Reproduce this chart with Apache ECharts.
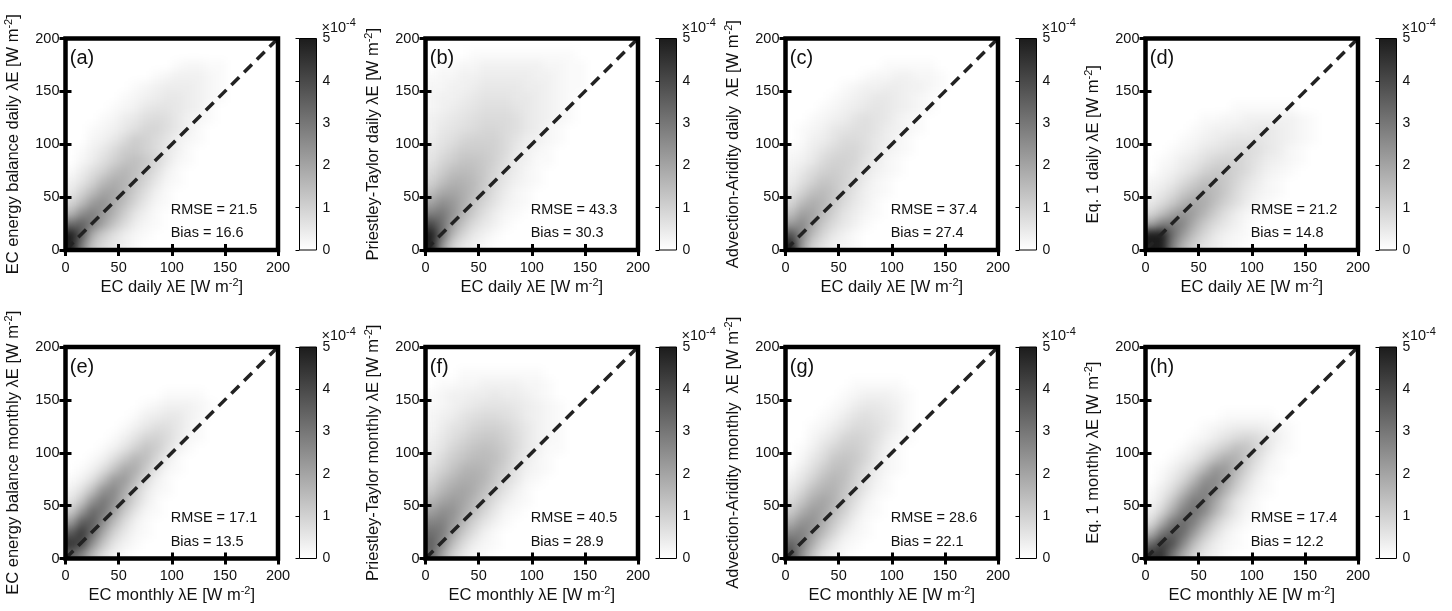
<!DOCTYPE html>
<html><head><meta charset="utf-8">
<script src="https://cdn.jsdelivr.net/npm/echarts@6/dist/echarts.min.js"></script>
<style>
html,body{margin:0;padding:0;background:#fff}
#wrap{position:relative;width:1452px;height:611px;overflow:hidden}
#c{position:absolute;left:0;top:0;width:1452px;height:611px;z-index:2}
.heat{position:absolute;z-index:1;filter:url(#smooth)}
</style>
</head><body>
<svg width="0" height="0" style="position:absolute">
 <filter id="smooth" x="0" y="0" width="100%" height="100%" color-interpolation-filters="sRGB">
  <feGaussianBlur stdDeviation="4" result="b"/>
  <feComponentTransfer in="b"><feFuncA type="linear" slope="1000" intercept="0"/></feComponentTransfer>
 </filter>
</svg>
<div id="wrap"><div id="c"></div></div>
<script>
// ---------------- data ----------------
const binStarts = [0,10,20,30,40,50,60,70,80,90,100,110,120,130,140,150,160,170,180,190];
const binWidth = 10;
const axisTicks = [0,50,100,150,200];
const cbarTicks = [0,1,2,3,4,5];
const oneToOne = [[0,0],[200,200]];
const panelTags = ['(a)','(b)','(c)','(d)','(e)','(f)','(g)','(h)'];
const yNames = ['EC energy balance daily \u03bbE','Priestley-Taylor daily \u03bbE','Advection-Aridity daily  \u03bbE','Eq. 1 daily \u03bbE',
                'EC energy balance monthly \u03bbE','Priestley-Taylor monthly \u03bbE','Advection-Aridity monthly  \u03bbE','Eq. 1 monthly \u03bbE'];
const xNames = ['EC daily \u03bbE','EC daily \u03bbE','EC daily \u03bbE','EC daily \u03bbE','EC monthly \u03bbE','EC monthly \u03bbE','EC monthly \u03bbE','EC monthly \u03bbE'];
const rmseValues = [21.5,43.3,37.4,21.2,17.1,40.5,28.6,17.4];
const biasValues = [16.6,30.3,27.4,14.8,13.5,28.9,22.1,12.2];

// density (x1e-4), rows from top (y 190-200) to bottom (y 0-10); columns x 0-10, 10-20, ...
const densA = [
 [],[],
 [0,0,0,0,0,0,0,0,0,0,0.1,0.2,0.2,0.1,0.1],
 [0,0,0,0,0,0,0,0,0.1,0.2,0.3,0.3,0.3,0.2,0.1],
 [0,0,0,0,0,0,0.1,0.2,0.3,0.4,0.4,0.4,0.3,0.2,0.1],
 [0,0,0,0,0,0.1,0.2,0.3,0.4,0.5,0.5,0.4,0.3,0.2,0.1],
 [0,0,0,0,0.1,0.2,0.3,0.5,0.6,0.6,0.5,0.4,0.3,0.1],
 [0,0,0,0.1,0.2,0.4,0.5,0.7,0.8,0.7,0.5,0.3,0.2,0.1],
 [0,0,0.1,0.2,0.3,0.5,0.7,0.9,0.9,0.7,0.5,0.3,0.1],
 [0,0,0.2,0.3,0.5,0.8,1.1,1.0,0.8,0.6,0.3,0.2,0.1],
 [0,0.1,0.3,0.5,0.8,1.1,1.2,1.0,0.8,0.5,0.3,0.1],
 [0,0.2,0.4,0.7,1.0,1.3,1.4,1.2,0.9,0.5,0.2,0.1],
 [0.1,0.4,0.7,1.0,1.4,1.6,1.4,1.1,0.7,0.3,0.1],
 [0.3,0.6,1.0,1.5,1.8,1.7,1.3,0.9,0.5,0.2,0.1],
 [0.5,1.0,1.5,2.0,2.0,1.6,1.1,0.7,0.3,0.1],
 [0.9,1.5,2.2,2.4,1.9,1.4,0.9,0.5,0.2,0.1],
 [1.6,2.5,2.8,2.3,1.7,1.1,0.6,0.3,0.1],
 [3.2,3.5,2.8,2.0,1.3,0.8,0.4,0.2,0.1],
 [5.0,3.6,1.8,1.1,0.7,0.4,0.2,0.1],
 [5.0,2.8,1.3,0.8,0.5,0.3,0.1]
];
const densB = [
 [],
 [0,0,0,0,0.1,0.1,0.1,0.1,0.1,0.1,0.1,0.1,0.1,0.1],
 [0,0.1,0.1,0.2,0.2,0.3,0.3,0.3,0.3,0.3,0.3,0.2,0.2,0.1,0.1],
 [0.1,0.2,0.2,0.3,0.3,0.4,0.4,0.4,0.4,0.4,0.3,0.3,0.2,0.1,0.1],
 [0.2,0.2,0.3,0.3,0.4,0.5,0.5,0.5,0.5,0.4,0.4,0.3,0.2,0.1,0.1],
 [0.2,0.3,0.3,0.4,0.5,0.6,0.6,0.6,0.5,0.5,0.4,0.3,0.2,0.1],
 [0.2,0.3,0.4,0.5,0.6,0.7,0.7,0.7,0.6,0.5,0.4,0.3,0.2,0.1],
 [0.3,0.4,0.5,0.6,0.7,0.8,0.8,0.8,0.7,0.5,0.4,0.3,0.2,0.1],
 [0.3,0.5,0.6,0.7,0.8,0.9,0.9,0.8,0.7,0.5,0.4,0.2,0.1],
 [0.4,0.6,0.7,0.9,1.0,1.0,1.0,0.8,0.6,0.4,0.3,0.2,0.1],
 [0.5,0.7,0.9,1.1,1.1,1.1,1.0,0.8,0.5,0.3,0.2,0.1],
 [0.6,0.9,1.1,1.3,1.3,1.2,1.0,0.7,0.4,0.3,0.1,0.1],
 [0.8,1.1,1.4,1.5,1.4,1.2,0.9,0.6,0.4,0.2,0.1],
 [1.0,1.4,1.7,1.7,1.5,1.2,0.8,0.5,0.3,0.2,0.1],
 [1.4,1.9,2.0,1.8,1.5,1.1,0.7,0.4,0.2,0.1],
 [2.0,2.5,2.3,1.8,1.3,0.9,0.6,0.3,0.2,0.1],
 [2.8,3.0,2.4,1.7,1.1,0.7,0.4,0.2,0.1],
 [4.0,3.2,2.1,1.3,0.8,0.5,0.3,0.1],
 [5.0,3.2,1.6,0.9,0.5,0.3,0.1],
 [5.0,2.4,1.0,0.5,0.3,0.1]
];
const densC = [
 [],[],
 [0,0,0,0,0,0,0,0,0,0.1,0.1,0.1,0.1,0.1],
 [0,0,0,0,0,0,0,0.1,0.2,0.2,0.3,0.3,0.2,0.2,0.1],
 [0,0,0,0,0,0.1,0.2,0.3,0.3,0.4,0.4,0.3,0.3,0.2,0.1],
 [0,0,0,0,0.1,0.2,0.3,0.4,0.5,0.5,0.4,0.3,0.2,0.1],
 [0,0,0,0.1,0.2,0.3,0.4,0.5,0.6,0.5,0.4,0.3,0.2,0.1],
 [0,0,0.1,0.2,0.3,0.4,0.6,0.7,0.6,0.5,0.3,0.2,0.1],
 [0,0.1,0.2,0.3,0.5,0.6,0.7,0.7,0.6,0.4,0.3,0.2,0.1],
 [0,0.1,0.3,0.4,0.6,0.8,0.8,0.7,0.5,0.4,0.2,0.1],
 [0.1,0.2,0.4,0.6,0.8,0.9,0.9,0.7,0.5,0.3,0.2,0.1],
 [0.2,0.3,0.5,0.8,1.0,1.0,0.9,0.6,0.4,0.2,0.1],
 [0.3,0.5,0.8,1.0,1.1,1.0,0.8,0.5,0.3,0.2,0.1],
 [0.4,0.7,1.0,1.3,1.2,1.0,0.7,0.4,0.2,0.1],
 [0.6,1.0,1.4,1.5,1.3,0.9,0.6,0.3,0.2,0.1],
 [0.9,1.5,1.8,1.6,1.2,0.8,0.5,0.3,0.1],
 [1.4,2.1,2.0,1.5,1.0,0.6,0.4,0.2,0.1],
 [2.2,2.6,1.9,1.2,0.8,0.5,0.3,0.1],
 [3.8,2.6,1.5,0.9,0.5,0.3,0.1],
 [5.0,2.2,1.0,0.6,0.3,0.2,0.1]
];
const densD = [
 [],[],[],[],[],[],
 [0,0,0,0,0,0,0,0,0.1,0.1,0.1,0.1,0.1,0.1],
 [0,0,0,0,0,0.1,0.1,0.2,0.2,0.3,0.3,0.3,0.3,0.3,0.2,0.1],
 [0,0,0,0,0.1,0.2,0.3,0.3,0.4,0.4,0.5,0.5,0.4,0.3,0.2,0.1],
 [0,0,0,0.1,0.2,0.3,0.4,0.5,0.6,0.6,0.6,0.5,0.4,0.3,0.2,0.1],
 [0,0,0.1,0.2,0.3,0.5,0.6,0.7,0.8,0.8,0.7,0.5,0.4,0.2,0.1],
 [0,0.1,0.2,0.4,0.5,0.7,0.9,1.0,1.0,0.8,0.6,0.4,0.3,0.2,0.1],
 [0,0.2,0.3,0.5,0.7,1.0,1.2,1.2,1.0,0.8,0.5,0.3,0.2,0.1],
 [0.2,0.3,0.5,0.8,1.1,1.4,1.4,1.2,0.9,0.6,0.4,0.2,0.1],
 [0.3,0.5,0.8,1.2,1.5,1.7,1.5,1.2,0.8,0.5,0.3,0.2,0.1],
 [0.5,0.8,1.2,1.7,2.0,1.8,1.4,1.0,0.7,0.4,0.2,0.1],
 [0.9,1.4,2.0,2.4,2.1,1.6,1.1,0.7,0.4,0.2,0.1],
 [2.0,2.8,3.0,2.6,1.8,1.2,0.8,0.5,0.3,0.1],
 [5.0,5.0,3.2,2.2,1.4,0.9,0.5,0.3,0.2,0.1],
 [5.0,5.0,2.8,1.6,1.0,0.6,0.4,0.2,0.1]
];
const densE = [
 [],[],[],[],
 [0,0,0,0,0,0,0,0,0,0.1,0.1,0.1,0.1],
 [0,0,0,0,0,0,0,0.1,0.2,0.3,0.3,0.3,0.2,0.1],
 [0,0,0,0,0,0,0.1,0.3,0.4,0.5,0.5,0.3,0.2],
 [0,0,0,0,0,0.1,0.3,0.5,0.7,0.7,0.5,0.3,0.1],
 [0,0,0,0,0.1,0.3,0.6,0.9,1.0,0.8,0.5,0.2,0.1],
 [0,0,0,0.1,0.3,0.6,1.0,1.3,1.1,0.7,0.3,0.1],
 [0,0,0.1,0.3,0.7,1.2,1.6,1.4,0.9,0.4,0.1],
 [0,0.1,0.3,0.7,1.3,1.9,1.8,1.2,0.6,0.2,0.1],
 [0.1,0.3,0.7,1.4,2.2,2.2,1.5,0.8,0.3,0.1],
 [0.3,0.7,1.4,2.4,2.6,1.9,1.1,0.5,0.2,0.1],
 [0.6,1.3,2.4,3.0,2.5,1.6,0.9,0.4,0.1],
 [1.2,2.3,3.3,3.0,2.1,1.2,0.6,0.2,0.1],
 [2.2,3.6,3.6,2.5,1.5,0.8,0.3,0.1],
 [3.6,4.4,3.2,1.9,1.0,0.5,0.2,0.1],
 [4.5,4.0,2.4,1.3,0.6,0.3,0.1],
 [3.5,2.6,1.5,0.7,0.3,0.1]
];
const densF = [
 [],[],
 [0,0,0,0.1,0.1,0.1,0.1,0.1,0.1,0.1,0.1],
 [0,0.1,0.1,0.2,0.2,0.3,0.3,0.3,0.3,0.2,0.2,0.1],
 [0.1,0.2,0.3,0.3,0.4,0.4,0.5,0.4,0.4,0.3,0.2,0.1],
 [0.1,0.2,0.3,0.4,0.5,0.6,0.6,0.6,0.5,0.4,0.3,0.2,0.1],
 [0.2,0.3,0.4,0.6,0.7,0.8,0.8,0.7,0.6,0.4,0.3,0.2,0.1],
 [0.2,0.4,0.6,0.7,0.9,1.0,1.0,0.9,0.7,0.5,0.3,0.2,0.1],
 [0.3,0.5,0.7,0.9,1.1,1.2,1.2,1.0,0.8,0.5,0.3,0.2,0.1],
 [0.4,0.6,0.9,1.1,1.3,1.4,1.3,1.1,0.8,0.5,0.3,0.1,0.1],
 [0.5,0.8,1.1,1.3,1.5,1.5,1.4,1.1,0.7,0.4,0.2,0.1],
 [0.7,1.0,1.3,1.6,1.7,1.6,1.3,1.0,0.6,0.3,0.2,0.1],
 [0.9,1.3,1.6,1.8,1.8,1.6,1.2,0.8,0.5,0.2,0.1],
 [1.2,1.6,1.9,2.0,1.8,1.4,1.0,0.6,0.3,0.1],
 [1.6,2.0,2.2,2.0,1.6,1.2,0.7,0.4,0.2,0.1],
 [2.1,2.5,2.4,1.9,1.4,0.9,0.5,0.2,0.1],
 [2.7,2.8,2.3,1.6,1.0,0.6,0.3,0.1],
 [3.2,2.9,2.0,1.2,0.7,0.3,0.1],
 [3.5,2.6,1.5,0.8,0.4,0.2,0.1],
 [3.4,2.0,1.0,0.5,0.2,0.1]
];
const densG = [
 [],[],[],
 [0,0,0,0,0,0,0.1,0.1,0.1,0.1,0.1],
 [0,0,0,0,0,0.1,0.2,0.3,0.3,0.3,0.2,0.1],
 [0,0,0,0,0.1,0.2,0.4,0.5,0.5,0.4,0.3,0.1],
 [0,0,0,0.1,0.2,0.4,0.6,0.7,0.6,0.5,0.3,0.1],
 [0,0,0.1,0.2,0.4,0.6,0.8,0.8,0.7,0.5,0.3,0.1],
 [0,0,0.2,0.4,0.6,0.9,1.0,0.9,0.7,0.4,0.2,0.1],
 [0,0.1,0.3,0.6,0.9,1.1,1.1,0.9,0.6,0.3,0.1],
 [0,0.2,0.5,0.8,1.2,1.3,1.2,0.9,0.5,0.2,0.1],
 [0.1,0.4,0.7,1.1,1.4,1.4,1.1,0.7,0.4,0.2,0.1],
 [0.3,0.6,1.0,1.4,1.6,1.4,1.0,0.6,0.3,0.1],
 [0.5,0.9,1.4,1.7,1.7,1.3,0.9,0.5,0.2,0.1],
 [0.8,1.3,1.8,2.0,1.7,1.2,0.7,0.3,0.1],
 [1.2,1.8,2.2,2.0,1.5,1.0,0.5,0.2,0.1],
 [1.8,2.4,2.4,1.8,1.2,0.7,0.3,0.1],
 [2.6,2.8,2.2,1.5,0.9,0.4,0.2,0.1],
 [3.4,2.8,1.8,1.0,0.5,0.2,0.1],
 [4.0,2.4,1.3,0.6,0.3,0.1]
];
const densH = [
 [],[],[],[],[],[],
 [0,0,0,0,0,0,0,0.1,0.1,0.1,0.1,0.1],
 [0,0,0,0,0,0.1,0.2,0.3,0.4,0.4,0.4,0.3,0.2,0.1],
 [0,0,0,0,0.1,0.2,0.4,0.6,0.8,0.9,0.8,0.5,0.3,0.1],
 [0,0,0,0.1,0.3,0.5,0.8,1.1,1.4,1.3,0.9,0.5,0.2,0.1],
 [0,0,0.1,0.3,0.5,0.9,1.4,1.8,1.7,1.2,0.7,0.3,0.1],
 [0,0.1,0.3,0.6,1.0,1.6,2.3,2.2,1.6,1.0,0.5,0.2,0.1],
 [0,0.2,0.5,0.9,1.6,2.4,2.6,2.1,1.3,0.7,0.3,0.1],
 [0.1,0.4,0.8,1.5,2.3,2.8,2.5,1.7,1.0,0.5,0.2,0.1],
 [0.2,0.6,1.3,2.2,2.9,2.8,2.0,1.2,0.6,0.3,0.1],
 [0.4,1.0,1.9,2.8,3.1,2.6,1.7,1.0,0.5,0.2,0.1],
 [0.8,1.8,2.9,3.3,2.8,1.9,1.1,0.6,0.3,0.1],
 [1.7,3.0,3.6,3.2,2.2,1.3,0.7,0.3,0.1],
 [3.2,4.2,3.8,2.6,1.5,0.8,0.4,0.2,0.1],
 [4.5,4.5,3.0,1.8,1.0,0.5,0.3,0.1]
];
const densities = [densA,densB,densC,densD,densE,densF,densG,densH];

// ---------------- layout / style ----------------
const FONT = "'Liberation Sans', Arial, Helvetica, sans-serif";
const TXT = '#111';
const colLeft = [65.5, 425.5, 785.5, 1145.5];
const rowTop = [38.5, 347];
const plotW = 212.5, plotH = 211.5;
const cbOffset = 234, cbW = 17;
const cmap = ['#ffffff', '#1c1c1c'];

function cells(dens){
  const out = [];
  const n = binStarts.length;
  dens.forEach((row, r) => {
    const y0 = binStarts[n - 1 - r];
    row.forEach((v, i) => { if (v > 0) out.push([binStarts[i], y0, v]); });
  });
  return out;
}
function renderCell(params, api){
  const x0 = api.value(0), y0 = api.value(1);
  const a = api.coord([x0, y0]), b = api.coord([x0 + binWidth, y0 + binWidth]);
  return {type:'rect', shape:{x:a[0], y:b[1], width:b[0]-a[0]+0.6, height:a[1]-b[1]+0.6},
          style:{fill: api.visual('color')}};
}
function renderBar(params, api){
  const a = api.coord([0, cbarTicks[0]]), b = api.coord([1, cbarTicks[cbarTicks.length-1]]);
  return {type:'rect', shape:{x:a[0], y:b[1], width:b[0]-a[0], height:a[1]-b[1]},
          style:{fill: new echarts.graphic.LinearGradient(0,1,0,0,[{offset:0,color:cmap[0]},{offset:1,color:cmap[1]}])}};
}
function makeTextRenderer(texts, sizes){
  return function(params, api){
    const p = api.coord([api.value(0), api.value(1)]);
    return {type:'text', x:p[0], y:p[1], silent:true,
      style:{text:texts[params.dataIndex], fill:TXT, fontSize:sizes[params.dataIndex], fontFamily:FONT,
             align:'left', verticalAlign:'middle'}};
  };
}

// ---------- density layers (one small chart per panel, smoothed for display) ----------
const wrap = document.getElementById('wrap');
for (let k = 0; k < 8; k++){
  const row = Math.floor(k/4), col = k % 4;
  const d = document.createElement('div');
  d.className = 'heat';
  d.style.left = colLeft[col] + 'px'; d.style.top = rowTop[row] + 'px';
  d.style.width = plotW + 'px'; d.style.height = plotH + 'px';
  wrap.appendChild(d);
  const hc = echarts.init(d, null, {renderer:'canvas', width:plotW, height:plotH});
  hc.setOption({
    animation:false, backgroundColor:'#fff',
    grid:{left:0, top:0, right:0, bottom:0, containLabel:false, outerBoundsMode:'none'},
    xAxis:{type:'value', min:axisTicks[0], max:axisTicks[axisTicks.length-1], show:false},
    yAxis:{type:'value', min:axisTicks[0], max:axisTicks[axisTicks.length-1], show:false},
    visualMap:{type:'continuous', show:false, min:cbarTicks[0], max:cbarTicks[cbarTicks.length-1], dimension:2, inRange:{color:cmap}},
    series:[{type:'custom', data:cells(densities[k]), renderItem:renderCell, encode:{x:0, y:1}, silent:true, clip:true}]
  });
}

// ---------- axes, frames, reference lines, text, colorbars ----------
const grids = [], xAxes = [], yAxes = [], series = [], graphics = [];
const supRich = {sup:{fontSize:11, fontFamily:FONT, color:TXT, padding:[0,0,9,0]}};
const tickStyle = {inside:true, length:6, lineStyle:{color:'#000', width:3}};

for (let k = 0; k < 8; k++){
  const row = Math.floor(k/4), col = k % 4;
  const L = colLeft[col], T = rowTop[row];
  const gP = grids.length;
  grids.push({left:L, top:T, width:plotW, height:plotH, show:true, borderColor:'#000', borderWidth:4.5,
              backgroundColor:'transparent', z:10, containLabel:false, outerBoundsMode:'none'});
  const gC = grids.length;
  grids.push({left:L+cbOffset, top:T, width:cbW, height:plotH, show:true, borderColor:'#000', borderWidth:1,
              backgroundColor:'transparent', z:10, containLabel:false, outerBoundsMode:'none'});
  const xB = xAxes.length;
  xAxes.push({gridIndex:gP, type:'value', min:axisTicks[0], max:axisTicks[axisTicks.length-1], interval:axisTicks[1]-axisTicks[0],
    position:'bottom', z:5, axisLine:{show:false}, splitLine:{show:false}, axisTick:tickStyle,
    axisLabel:{fontSize:14.5, color:TXT, fontFamily:FONT, margin:10},
    name: xNames[k] + ' [W m{sup|-2}]', nameLocation:'middle', nameGap:27,
    nameTextStyle:{fontSize:16.5, color:TXT, fontFamily:FONT, rich:supRich}});
  xAxes.push({gridIndex:gP, type:'value', min:axisTicks[0], max:axisTicks[axisTicks.length-1], interval:axisTicks[1]-axisTicks[0],
    position:'top', z:5, axisLine:{show:false}, splitLine:{show:false}, axisTick:tickStyle, axisLabel:{show:false}});
  const xC = xAxes.length;
  xAxes.push({gridIndex:gC, type:'value', min:0, max:1, show:false});
  const yL = yAxes.length;
  yAxes.push({gridIndex:gP, type:'value', min:axisTicks[0], max:axisTicks[axisTicks.length-1], interval:axisTicks[1]-axisTicks[0],
    position:'left', z:5, axisLine:{show:false}, splitLine:{show:false}, axisTick:tickStyle,
    axisLabel:{fontSize:14.5, color:TXT, fontFamily:FONT, margin:6},
    name: yNames[k] + ' [W m{sup|-2}]', nameLocation:'middle', nameGap:42,
    nameTextStyle:{fontSize:16.5, color:TXT, fontFamily:FONT, rich:supRich}});
  yAxes.push({gridIndex:gP, type:'value', min:axisTicks[0], max:axisTicks[axisTicks.length-1], interval:axisTicks[1]-axisTicks[0],
    position:'right', z:5, axisLine:{show:false}, splitLine:{show:false}, axisTick:tickStyle, axisLabel:{show:false}});
  const yC = yAxes.length;
  yAxes.push({gridIndex:gC, type:'value', min:cbarTicks[0], max:cbarTicks[cbarTicks.length-1], interval:1,
    position:'right', z:5, axisLine:{show:false}, splitLine:{show:false},
    axisTick:{inside:true, length:4, lineStyle:{color:'#000', width:1}},
    axisLabel:{fontSize:14, color:TXT, fontFamily:FONT, margin:6}});

  series.push({type:'line', xAxisIndex:xB, yAxisIndex:yL, data:oneToOne, showSymbol:false, symbol:'none', silent:true,
               lineStyle:{color:'#222', width:3.5, type:[11,7]}, z:3, animation:false, clip:true});
  const texts = [panelTags[k], 'RMSE = ' + rmseValues[k].toFixed(1), 'Bias = ' + biasValues[k].toFixed(1)];
  series.push({type:'custom', xAxisIndex:xB, yAxisIndex:yL, z:4, silent:true, animation:false, clip:false,
    data:[[4,181],[99,38],[99,16]], encode:{x:0, y:1}, renderItem:makeTextRenderer(texts, [20,14.5,14.5])});
  series.push({type:'custom', xAxisIndex:xC, yAxisIndex:yC, data:[[0,0]], renderItem:renderBar,
               encode:{x:0, y:1}, z:1, silent:true, animation:false});
  graphics.push({type:'text', left:L+cbOffset+cbW+5, top:T-21, silent:true,
    style:{text:'{a|\u00d710}{b|-4}', fill:TXT,
      rich:{a:{fontSize:14.5, fontFamily:FONT, color:TXT}, b:{fontSize:11, fontFamily:FONT, color:TXT, padding:[0,0,9,0]}}}});
}

const chart = echarts.init(document.getElementById('c'), null, {renderer:'canvas'});
chart.setOption({
  animation:false,
  backgroundColor:'transparent',
  grid: grids, xAxis: xAxes, yAxis: yAxes, series: series, graphic: graphics
});
</script></body></html>
